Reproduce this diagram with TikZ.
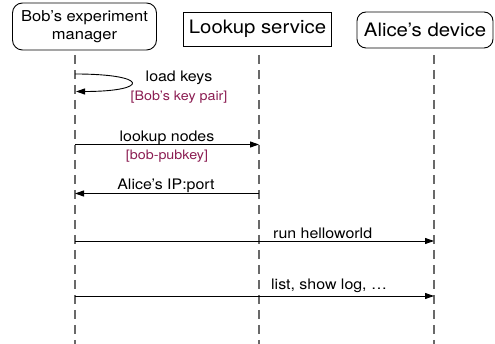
\documentclass[tikz,border=0pt]{standalone}
\usepackage{fontspec}
\setmainfont{TeX Gyre Heros}[FakeStretch=1.1]
\usetikzlibrary{arrows.meta}
\definecolor{keyred}{RGB}{139,28,82}
\definecolor{lifegray}{RGB}{105,105,105}
\tikzset{
  party/.style={draw, line width=0.9pt, align=center, inner sep=0pt},
  lifeline/.style={lifegray, line width=1.4pt, dash pattern=on 9pt off 6pt},
  msg/.style={line width=0.9pt, -{Triangle[length=9pt,width=6pt]}},
  lbl/.style={inner sep=0pt, font=\fontsize{14.5}{17}\selectfont},
  keylbl/.style={inner sep=0pt, text=keyred, font=\fontsize{13}{15}\selectfont}
}
\begin{document}
\begin{tikzpicture}[x=1pt,y=-1pt]
  \useasboundingbox (0,0) rectangle (495,344);
  \node[party, rounded corners=10pt, minimum width=144pt, minimum height=47pt,
        font=\fontsize{15}{18.4}\selectfont] (bob) at (84.5,26.5) {Bob’s experiment\\manager};
  \node[party, minimum width=148pt, minimum height=34pt,
        font=\fontsize{18.5}{21}\selectfont] (lookup) at (257.5,29) {Lookup service};
  \node[party, rounded corners=9pt, minimum width=136pt, minimum height=36pt,
        font=\fontsize{18.5}{21}\selectfont] (alice) at (425,30) {Alice’s device};

  \coordinate (bobtop) at (75,55);
  \coordinate (bobbot) at (75,344);
  \coordinate (looktop) at (259,55);
  \coordinate (lookbot) at (259,344);
  \coordinate (alicetop) at (434,55);
  \coordinate (alicebot) at (434,344);
  \draw[lifeline] (bobtop) -- (bobbot);
  \draw[lifeline] (looktop) -- (lookbot);
  \draw[lifeline] (alicetop) -- (alicebot);

  \coordinate (bob1) at (75,74);
  \coordinate (bob2) at (76,91.5);
  \coordinate (bob3) at (75,144.5);
  \coordinate (look3) at (259,144.5);
  \coordinate (look4) at (259,193.5);
  \coordinate (bob4) at (75,193.5);
  \coordinate (bob5) at (75,241);
  \coordinate (alice5) at (434,241);
  \coordinate (bob6) at (75,296);
  \coordinate (alice6) at (434,296);

  \draw[msg] (bob1) .. controls (150,74) and (150,91.5) .. (bob2);
  \node[lbl] (loadkeys) at (179,78) {load keys};
  \node[keylbl] (keypair) at (179,97) {[Bob’s key pair]};

  \draw[msg] (bob3) -- (look3);
  \node[lbl] (lookupnodes) at (167,138) {lookup nodes};
  \node[keylbl] (pubkey) at (167,156) {[bob-pubkey]};

  \draw[msg] (look4) -- (bob4);
  \node[lbl] (ipport) at (166,185.5) {Alice’s IP:port};

  \draw[msg] (bob5) -- (alice5);
  \node[lbl, anchor=west] (hello) at (273,233) {run helloworld};

  \draw[msg] (bob6) -- (alice6);
  \node[lbl, anchor=west] (listlog) at (271,285.5) {list, show log, …};
\end{tikzpicture}
\end{document}
